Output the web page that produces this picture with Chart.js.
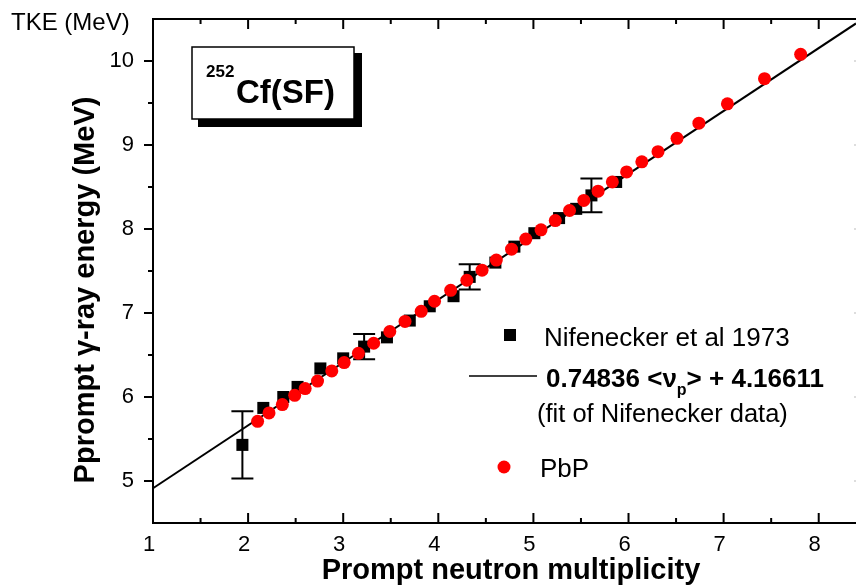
<!DOCTYPE html>
<html>
<head>
<meta charset="utf-8">
<script src="https://cdn.jsdelivr.net/npm/chart.js@4.4.1/dist/chart.umd.min.js"></script>
<style>
  html, body { margin: 0; padding: 0; background: #fff; }
</style>
</head>
<body>
<canvas id="chart_box" width="856" height="585"></canvas>
<script>
// Nifenecker et al 1973 (black squares)
var nifX = [1.94, 2.16, 2.37, 2.52, 2.76, 3.00, 3.22, 3.46, 3.70, 3.91, 4.16, 4.33, 4.60, 4.80, 5.01, 5.27, 5.45, 5.61, 5.87];
var nifY = [5.43, 5.87, 6.00, 6.12, 6.34, 6.46, 6.60, 6.71, 6.91, 7.08, 7.20, 7.43, 7.60, 7.79, 7.95, 8.13, 8.24, 8.40, 8.56];
var nifErr = [0.40, 0, 0, 0, 0, 0, 0.15, 0, 0, 0, 0, 0.15, 0, 0, 0, 0, 0, 0.20, 0];

// PbP (red circles)
var pbpX = [2.10, 2.22, 2.36, 2.49, 2.60, 2.73, 2.88, 3.01, 3.16, 3.32, 3.49, 3.65, 3.82, 3.96, 4.13, 4.30, 4.46, 4.61, 4.77, 4.92,
            5.08, 5.23, 5.38, 5.53, 5.68, 5.83, 5.98, 6.14, 6.31, 6.51, 6.74, 7.04, 7.43, 7.81];
var pbpY = [5.71, 5.81, 5.91, 6.02, 6.10, 6.19, 6.31, 6.41, 6.52, 6.64, 6.78, 6.90, 7.02, 7.14, 7.27, 7.39, 7.51, 7.63, 7.76, 7.88,
            7.99, 8.10, 8.22, 8.34, 8.45, 8.56, 8.68, 8.80, 8.92, 9.08, 9.26, 9.49, 9.79, 10.08];

// fit line end points (0.74836 <nu_p> + 4.16611)
var fitX = [1, 8.392];
var fitY = [4.914, 10.447];

var xTicks = [1, 2, 3, 4, 5, 6, 7, 8];
var yTicks = [5, 6, 7, 8, 9, 10];

var FONT = "'Liberation Sans', Arial, sans-serif";

function toPoints(xs, ys) {
    var pts = [];
    for (var i = 0; i < xs.length; i++) pts.push({ x: xs[i], y: ys[i] });
    return pts;
}

function noPadding(scale) {
    scale.paddingLeft = 0;
    scale.paddingRight = 0;
    scale.paddingTop = 0;
    scale.paddingBottom = 0;
}

// error bars, frame ticks, legend, label box
var decorPlugin = {
    id: 'decor',
    afterLayout: function (chart) {
        // plot runs off the right edge of the picture
        var xs = chart.scales.x, a = chart.chartArea;
        a.right = chart.width;
        a.width = a.right - a.left;
        xs.right = chart.width;
        xs.width = xs.right - xs.left;
        xs.configure();
    },
    beforeDatasetsDraw: function (chart) {
        var ctx = chart.ctx, xs = chart.scales.x, ys = chart.scales.y;
        ctx.save();
        ctx.strokeStyle = '#000';
        ctx.lineWidth = 2;
        for (var i = 0; i < nifX.length; i++) {
            if (!nifErr[i]) continue;
            var px = xs.getPixelForValue(nifX[i]);
            var top = ys.getPixelForValue(nifY[i] + nifErr[i]);
            var bot = ys.getPixelForValue(nifY[i] - nifErr[i]);
            ctx.beginPath();
            ctx.moveTo(px, top); ctx.lineTo(px, bot);
            ctx.moveTo(px - 11, top); ctx.lineTo(px + 11, top);
            ctx.moveTo(px - 11, bot); ctx.lineTo(px + 11, bot);
            ctx.stroke();
        }
        ctx.restore();
    },
    afterDraw: function (chart) {
        var ctx = chart.ctx, a = chart.chartArea, xs = chart.scales.x, ys = chart.scales.y;
        var v, p, big;
        ctx.save();
        ctx.strokeStyle = '#000';
        ctx.fillStyle = '#000';
        ctx.lineWidth = 2;

        // frame
        ctx.beginPath();
        ctx.moveTo(a.right, a.top); ctx.lineTo(a.left, a.top);
        ctx.lineTo(a.left, a.bottom); ctx.lineTo(a.right, a.bottom);
        ctx.stroke();

        // x ticks (inward, top and bottom)
        ctx.beginPath();
        for (v = 1.5; v <= 8.0001; v += 0.5) {
            p = xs.getPixelForValue(v);
            big = Math.abs(v - Math.round(v)) < 1e-6;
            ctx.moveTo(p, a.bottom); ctx.lineTo(p, a.bottom - (big ? 10 : 5));
            ctx.moveTo(p, a.top); ctx.lineTo(p, a.top + (big ? 10 : 5));
        }
        // y ticks (outward on the left)
        for (v = 5; v <= 10.0001; v += 0.5) {
            p = ys.getPixelForValue(v);
            big = Math.abs(v - Math.round(v)) < 1e-6;
            ctx.moveTo(a.left, p); ctx.lineTo(a.left - (big ? 9 : 5), p);
        }
        ctx.stroke();

        // right axis ticks, cut by the edge
        ctx.strokeStyle = '#bbb';
        ctx.lineWidth = 1;
        ctx.beginPath();
        for (v = 5; v <= 10.0001; v += 1) {
            p = ys.getPixelForValue(v);
            ctx.moveTo(a.right - 2, p); ctx.lineTo(a.right, p);
        }
        ctx.stroke();
        ctx.strokeStyle = '#000';
        ctx.lineWidth = 2;

        // axis titles
        ctx.textAlign = 'center';
        ctx.textBaseline = 'alphabetic';
        ctx.font = 'bold 29px ' + FONT;
        ctx.fillText('Prompt neutron multiplicity', 511, 579);
        ctx.save();
        ctx.translate(94, 290);
        ctx.rotate(-Math.PI / 2);
        ctx.fillText('Pprompt \u03b3-ray energy (MeV)', 0, 0);
        ctx.restore();

        ctx.textAlign = 'left';
        ctx.font = '24px ' + FONT;
        ctx.fillText('TKE (MeV)', 11, 30);

        // 252Cf(SF) box with shadow
        ctx.fillRect(198, 119, 164, 8);
        ctx.fillRect(354, 53, 8, 74);
        ctx.fillStyle = '#fff';
        ctx.fillRect(192, 47, 162, 72);
        ctx.fillStyle = '#000';
        ctx.lineWidth = 1.5;
        ctx.strokeRect(192, 47, 162, 72);
        ctx.font = 'bold 17px ' + FONT;
        ctx.fillText('252', 206, 77);
        ctx.font = 'bold 33px ' + FONT;
        ctx.fillText('Cf(SF)', 236, 103);

        // legend
        ctx.fillRect(504, 329, 12, 12);
        ctx.font = '26px ' + FONT;
        ctx.fillText('Nifenecker et al 1973', 544, 346);

        ctx.lineWidth = 1.5;
        ctx.beginPath();
        ctx.moveTo(469, 376); ctx.lineTo(537, 376);
        ctx.stroke();
        ctx.font = 'bold 26px ' + FONT;
        var s1 = '0.74836 <\u03bd';
        ctx.fillText(s1, 546, 387);
        var w1 = ctx.measureText(s1).width;
        ctx.font = 'bold 16px ' + FONT;
        ctx.fillText('p', 546 + w1, 395);
        var w2 = ctx.measureText('p').width;
        ctx.font = 'bold 26px ' + FONT;
        ctx.fillText('> + 4.16611', 546 + w1 + w2, 387);

        ctx.font = '25.5px ' + FONT;
        ctx.fillText('(fit of Nifenecker data)', 537, 422);

        ctx.fillStyle = '#ff0000';
        ctx.beginPath();
        ctx.arc(504, 467, 6.5, 0, Math.PI * 2);
        ctx.fill();
        ctx.fillStyle = '#000';
        ctx.font = '26px ' + FONT;
        ctx.fillText('PbP', 540, 477);

        ctx.restore();
    }
};

var ctx = document.getElementById('chart_box').getContext('2d');
var chart = new Chart(ctx, {
    type: 'scatter',
    data: {
        datasets: [{
            label: 'PbP',
            data: toPoints(pbpX, pbpY),
            pointStyle: 'circle',
            pointRadius: 6.5,
            pointBackgroundColor: '#ff0000',
            pointBorderWidth: 0,
            order: 0
        }, {
            label: 'Nifenecker et al 1973',
            data: toPoints(nifX, nifY),
            pointStyle: 'rect',
            pointRadius: 8.5,
            pointBackgroundColor: '#000',
            pointBorderWidth: 0,
            order: 1
        }, {
            type: 'line',
            label: 'fit',
            data: toPoints(fitX, fitY),
            borderColor: '#000',
            borderWidth: 2,
            pointRadius: 0,
            fill: false,
            order: 2
        }]
    },
    options: {
        responsive: false,
        animation: false,
        devicePixelRatio: 1,
        clip: false,
        layout: { padding: { top: 19, right: 0, bottom: 0, left: 0 } },
        plugins: {
            legend: { display: false },
            tooltip: { enabled: false }
        },
        scales: {
            x: {
                type: 'linear',
                min: 1,
                max: 8.392,
                afterFit: function (scale) { scale.height = 62; noPadding(scale); },
                afterBuildTicks: function (scale) {
                    scale.ticks = xTicks.map(function (v) { return { value: v }; });
                },
                grid: { display: false, drawTicks: false },
                border: { display: false },
                ticks: {
                    color: '#000',
                    font: { family: FONT, size: 22 },
                    padding: 9,
                    labelOffset: -4,
                    autoSkip: false,
                    maxRotation: 0
                }
            },
            y: {
                type: 'linear',
                min: 4.5,
                max: 10.5,
                afterFit: function (scale) { scale.width = 153; noPadding(scale); },
                afterBuildTicks: function (scale) {
                    scale.ticks = yTicks.map(function (v) { return { value: v }; });
                },
                grid: { display: false, drawTicks: false },
                border: { display: false },
                ticks: {
                    color: '#000',
                    font: { family: FONT, size: 22 },
                    padding: 19,
                    autoSkip: false
                }
            }
        }
    },
    plugins: [decorPlugin]
});
</script>
</body>
</html>
